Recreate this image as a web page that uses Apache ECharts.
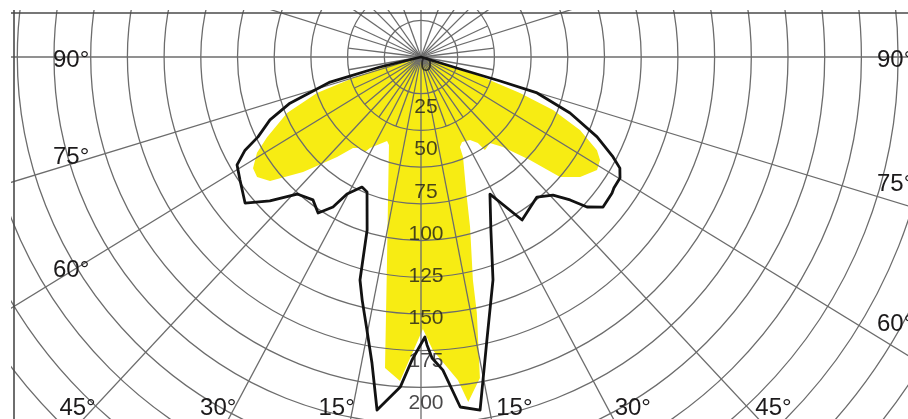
<!DOCTYPE html>
<html>
<head>
<meta charset="utf-8">
<script src="https://cdn.jsdelivr.net/npm/echarts@6.0.0/dist/echarts.min.js"></script>
<style>
  html, body { margin: 0; padding: 0; background: #fff; }
  #chart { width: 908px; height: 419px; }
</style>
</head>
<body>
<div id="chart"></div>
<script>
// Polar light-distribution curve: intensity (cd) against gamma angle.
// Gamma is measured from nadir; negative angles lie on the left half.

// Plane drawn as the yellow filled shape
const yellowGamma = [-74, -75.5, -72.8, -70.9, -67.3, -62.5, -59.7, -56.5, -53.8, -50.6, -45.7, -40.0, -36.8, -33.8, -30.5, -29.3, -22.0, -20.0, -13.0, -9.5, -7.6, -6.6, -3.7, 0.4, 2.3, 4.5, 6.5, 7.8, 10.4, 12.3, 13.1, 16.1, 18.7, 22.8, 23.4, 25.8, 30.6, 33.5, 34.5, 38.7, 42.3, 46.6, 49.2, 53.0, 57.3, 60.1, 62.1, 65.3, 68.1, 70.0, 72.2, 71.0, 72];
const yellowCd = [0, 18.9, 42.1, 65.1, 85.9, 102.7, 112.4, 119.2, 120.2, 115.6, 97.5, 77.3, 67.2, 64.8, 65.3, 61.7, 53.6, 55.4, 86.8, 121.8, 157.0, 185.3, 192.1, 160.9, 173.5, 182.8, 192.4, 206.0, 193.1, 155.1, 135.5, 104.7, 83.1, 64.2, 58.0, 55.8, 57.0, 61.0, 66.8, 65.2, 72.0, 88.7, 108.7, 117.9, 123.8, 122.2, 117.8, 103.5, 84.2, 62.3, 36.7, 18.1, 0];

// Plane drawn as the black outline
const blackGamma = [-75, -76.3, -74.6, -70.6, -67.4, -63.9, -62.1, -59.6, -55.8, -50.3, -46.4, -42.1, -37.1, -33.4, -30.4, -28.4, -24.4, -21.8, -17.3, -15.3, -13.6, -11.2, -9.1, -7.1, -3.6, -1.7, 0.8, 1.2, 2.1, 4.0, 6.4, 9.5, 13.1, 17.9, 22.0, 26.7, 31.8, 39.6, 43.7, 46.2, 47.9, 50.5, 54.5, 55.8, 58.7, 60.8, 62.5, 65.6, 69.4, 72.8, 73.1, 72.9, 73];
const blackCd = [0, 25.0, 55.8, 82.2, 96.8, 107.4, 117.8, 126.2, 129.5, 135.3, 123.5, 109.3, 106.0, 110.6, 102.9, 92.1, 84.5, 86.0, 107.2, 136.8, 148.0, 164.7, 183.4, 210.5, 195.7, 179.4, 165.7, 170.4, 178.2, 185.7, 208.4, 211.8, 172.0, 138.6, 110.4, 90.8, 113.5, 107.6, 113.0, 122.2, 132.4, 139.6, 138.8, 138.0, 137.8, 134.8, 128.1, 114.4, 94.2, 71.9, 48.9, 24.1, 0];

// Intensity scale labels along the nadir axis
const cdTicks = [0, 25, 50, 75, 100, 125, 150, 175, 200];

// Angle labels and the gamma of the grid ray each one sits on
const angleTicks = ['90°', '75°', '60°', '45°', '30°', '15°'];
const angleTickRay = [90, 73, 58.5, 43, 28, 11];

// Grid: concentric rings (in ring units) and radial rays [gamma, outer ring]
const ringCount = 17;
const longRays = [0, 11, -11, 28, -28, 43, -43, 58.5, -58.5, 73, -73, 90, -90, 107.5, -107.5, 125, -125, 145, -145, 180];
const shortRays = [20, -20, 35, -35, 50, -50, 65, -65, 80, -80, 97, -97, 115, -115, 135, -135, 160, -160];
const shortRayLength = 2;

// Layout
const CENTER = [421, 57];
const RING_PX = 36.7;
const CD_PX = 1.69;        // pixels per cd
const CD_MAX = 240;
const FRAME_LEFT = 14, FRAME_TOP = 13;
const FONT = 'Liberation Sans, Arial, sans-serif';
const TEXT_COLOR = '#1c1a1b';
const GRID_COLOR = '#6c6c6c';

const chart = echarts.init(document.getElementById('chart'), null, { renderer: 'canvas' });

const hiddenAxis = {
  axisLine: { show: false }, axisTick: { show: false },
  axisLabel: { show: false }, splitLine: { show: false }, splitArea: { show: false }
};
const angleAxisBase = Object.assign({ type: 'value', min: -180, max: 180, startAngle: 90, clockwise: false }, hiddenAxis);

const rayData = longRays.map(g => [g, ringCount]).concat(shortRays.map(g => [g, shortRayLength]));

function curveSeries(gammas, cds, style, z) {
  return {
    type: 'custom', coordinateSystem: 'polar', polarIndex: 1, z: z, silent: true,
    data: [[0, 0]],
    renderItem: function (params, api) {
      const pts = gammas.map((g, i) => api.coord([cds[i], g]));
      return { type: 'polygon', shape: { points: pts }, style: style };
    }
  };
}

// Angle labels placed where each labelled ray leaves the framed area
function angleLabels() {
  const els = [];
  angleTicks.forEach((txt, i) => {
    const g = angleTickRay[i] * Math.PI / 180;
    [-1, 1].forEach(side => {
      const sx = side * Math.sin(g), sy = Math.cos(g);
      let x, y, align, vAlign = 'middle';
      if (angleTickRay[i] < 50) {
        y = 408;
        x = CENTER[0] + (y - CENTER[1]) * sx / sy;
        align = side < 0 ? 'right' : 'left';
        x += side < 0 ? 2 : 7;
      } else {
        x = side < 0 ? 53 : 877;
        align = 'left';
        if (Math.abs(sy) < 1e-6) { y = CENTER[1] + 3; }
        else { y = CENTER[1] + (x - CENTER[0]) * sy / sx; vAlign = 'bottom'; }
      }
      els.push({
        type: 'text', x: x, y: y, z: 120,
        style: { text: txt, font: '24px ' + FONT, fill: TEXT_COLOR, align: align, verticalAlign: vAlign }
      });
    });
  });
  return els;
}

const option = {
  backgroundColor: '#ffffff',
  animation: false,
  polar: [
    { center: CENTER, radius: RING_PX * ringCount },
    { center: CENTER, radius: CD_PX * CD_MAX }
  ],
  radiusAxis: [
    Object.assign({}, hiddenAxis, { polarIndex: 0, type: 'value', min: 0, max: ringCount, interval: 1, z: 3,
      splitLine: { show: true, lineStyle: { color: GRID_COLOR, width: 1.3 } } }),
    Object.assign({}, hiddenAxis, { polarIndex: 1, type: 'value', min: 0, max: CD_MAX })
  ],
  angleAxis: [
    Object.assign({}, angleAxisBase, { polarIndex: 0 }),
    Object.assign({}, angleAxisBase, { polarIndex: 1 })
  ],
  series: [
    curveSeries(yellowGamma, yellowCd, { fill: 'rgb(247,236,19)', stroke: null }, 1),
    {
      type: 'custom', coordinateSystem: 'polar', polarIndex: 0, z: 3, silent: true,
      data: rayData,
      renderItem: function (params, api) {
        const g = api.value(0), r = api.value(1);
        const p0 = api.coord([0, g]), p1 = api.coord([r, g]);
        return { type: 'line', shape: { x1: p0[0], y1: p0[1], x2: p1[0], y2: p1[1] },
          style: { stroke: GRID_COLOR, lineWidth: 1.3 } };
      }
    },
    curveSeries(blackGamma, blackCd, { fill: null, stroke: '#121212', lineWidth: 2.8, lineJoin: 'round' }, 5),
    {
      type: 'scatter', coordinateSystem: 'polar', polarIndex: 1, z: 6, silent: true,
      symbolSize: 1, itemStyle: { color: 'transparent' },
      data: cdTicks.map(v => [v, 0]),
      label: {
        show: true, position: 'inside', offset: [5, 8],
        formatter: p => String(p.value[0]),
        fontSize: 21, fontFamily: FONT, color: TEXT_COLOR
      }
    }
  ],
  graphic: [
    // blank margin outside the frame
    { type: 'rect', z: 100, shape: { x: 0, y: 0, width: 908, height: FRAME_TOP - 3 }, style: { fill: '#fff' } },
    { type: 'rect', z: 100, shape: { x: 0, y: 0, width: FRAME_LEFT - 3, height: 419 }, style: { fill: '#fff' } },
    { type: 'line', z: 101, shape: { x1: FRAME_LEFT - 3, y1: FRAME_TOP, x2: 908, y2: FRAME_TOP }, style: { stroke: '#4a4a4a', lineWidth: 1.6 } },
    { type: 'line', z: 101, shape: { x1: FRAME_LEFT, y1: FRAME_TOP - 3, x2: FRAME_LEFT, y2: 419 }, style: { stroke: '#4a4a4a', lineWidth: 1.6 } }
  ].concat(angleLabels())
};

chart.setOption(option);
</script>
</body>
</html>
